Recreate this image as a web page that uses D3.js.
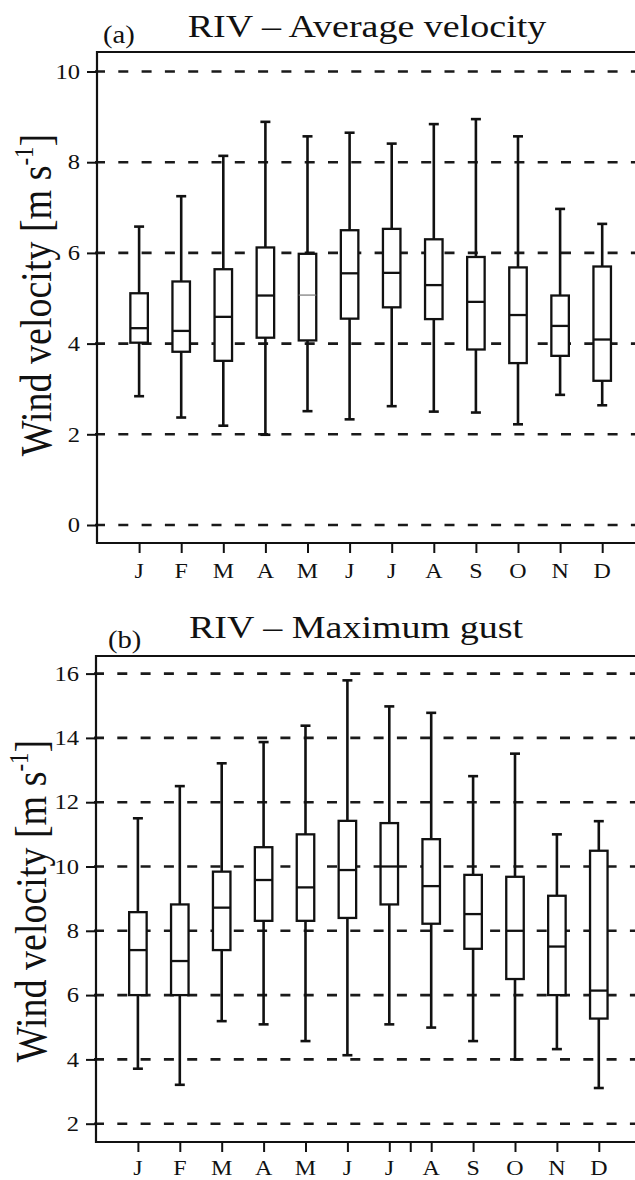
<!DOCTYPE html>
<html>
<head>
<meta charset="utf-8">
<script src="https://cdn.jsdelivr.net/npm/d3@7"></script>
<style>
  body { margin: 0; background: #fff; }
  svg text { font-family: "Liberation Serif", "Times New Roman", serif; fill: #111; }
</style>
</head>
<body>
<svg id="chart" width="635" height="1180"></svg>
<script>
// months on the x axis
var months = ["J", "F", "M", "A", "M", "J", "J", "A", "S", "O", "N", "D"];

// (a) average velocity, m/s
var avgMin = [2.84, 2.37, 2.19, 1.99, 2.51, 2.33, 2.62, 2.50, 2.48, 2.22, 2.87, 2.64];
var avgQ1  = [4.02, 3.82, 3.62, 4.13, 4.07, 4.55, 4.80, 4.54, 3.87, 3.57, 3.73, 3.18];
var avgMed = [4.34, 4.28, 4.59, 5.06, 5.07, 5.55, 5.56, 5.29, 4.92, 4.63, 4.39, 4.09];
var avgQ3  = [5.11, 5.37, 5.64, 6.12, 5.98, 6.50, 6.53, 6.30, 5.91, 5.68, 5.06, 5.70];
var avgMax = [6.58, 7.25, 8.14, 8.89, 8.57, 8.65, 8.41, 8.84, 8.95, 8.57, 6.97, 6.64];
var avgTicks = [0, 2, 4, 6, 8, 10];

// (b) maximum gust, m/s
var gustMin = [3.71, 3.21, 5.19, 5.09, 4.57, 4.13, 5.09, 4.99, 4.57, 4.00, 4.32, 3.11];
var gustQ1  = [6.00, 6.00, 7.40, 8.31, 8.31, 8.40, 8.82, 8.22, 7.44, 6.50, 6.00, 5.27];
var gustMed = [7.40, 7.06, 8.72, 9.58, 9.35, 9.89, 10.00, 9.39, 8.52, 8.00, 7.51, 6.14];
var gustQ3  = [8.58, 8.82, 9.84, 10.60, 11.00, 11.42, 11.35, 10.85, 9.74, 9.68, 9.09, 10.49];
var gustMax = [11.50, 12.50, 13.21, 13.87, 14.38, 15.79, 14.98, 14.78, 12.81, 13.51, 11.00, 11.41];
var gustTicks = [2, 4, 6, 8, 10, 12, 14, 16];

var svg = d3.select("#chart");
var SX = 1.17; // the picture is a bit stretched sideways

function buildRows(mn, q1, md, q3, mx) {
  return months.map(function(m, i) {
    return {i: i, month: m, min: mn[i], q1: q1[i], med: md[i], q3: q3[i], max: mx[i]};
  });
}

function panel(o) {
  var g = svg.append("g");

  var x = d3.scaleLinear().domain([0, 13]).range([o.left, o.left + 13 * o.step]);
  var y = d3.scaleLinear().domain(o.domain).range(o.range);

  // dashed grid
  g.selectAll("line.grid")
    .data(o.ticks)
    .enter()
    .append("line")
    .attr("class", "grid")
    .attr("x1", o.left - 2)
    .attr("x2", 640)
    .attr("y1", function(d) { return y(d); })
    .attr("y2", function(d) { return y(d); })
    .attr("stroke", "#1a1a1a")
    .attr("stroke-width", 2.6)
    .attr("stroke-dasharray", "10,13.3");

  // frame
  g.append("path")
    .attr("d", "M640," + o.top + "H" + o.left + "V" + o.bottom + "H640")
    .attr("fill", "none")
    .attr("stroke", "#111")
    .attr("stroke-width", 2.2);

  // y axis
  var yAxis = d3.axisLeft(y).tickValues(o.ticks).tickSize(10).tickPadding(17);
  var ya = g.append("g")
    .attr("transform", "translate(" + o.left + ",0)")
    .call(yAxis);
  ya.select(".domain").remove();
  ya.selectAll("line").attr("stroke", "#111").attr("stroke-width", 2);
  ya.selectAll("text")
    .attr("font-family", "Liberation Serif, serif")
    .attr("font-size", 21)
    .attr("fill", "#222")
    .attr("x", -17 / SX)
    .attr("transform", "scale(" + SX + ",1)");

  // x axis
  var xa = g.append("g")
    .attr("transform", "translate(0," + o.bottom + ")")
    .call(d3.axisBottom(x).tickValues(d3.range(1, 13).concat(o.extraTick)).tickSize(10).tickFormat(""));
  xa.select(".domain").remove();
  xa.selectAll("line").attr("stroke", "#111").attr("stroke-width", 2);

  g.selectAll("text.month")
    .data(o.rows)
    .enter()
    .append("text")
    .attr("class", "month")
    .attr("text-anchor", "middle")
    .attr("font-size", 20.5)
    .attr("fill", "#222")
    .attr("transform", function(d) { return "translate(" + x(d.i + 1) + "," + o.monthY + ") scale(" + SX + ",1)"; })
    .text(function(d) { return d.month; });

  // boxes
  var bw = 17.5, cw = 10;
  var box = g.selectAll("g.box")
    .data(o.rows)
    .enter()
    .append("g")
    .attr("class", "box")
    .attr("transform", function(d) { return "translate(" + x(d.i + 1) + ",0)"; });

  box.append("line")
    .attr("y1", function(d) { return y(d.max); })
    .attr("y2", function(d) { return y(d.min); })
    .attr("stroke", "#111").attr("stroke-width", 2.6);
  box.append("line")
    .attr("x1", -cw / 2).attr("x2", cw / 2)
    .attr("y1", function(d) { return y(d.max); })
    .attr("y2", function(d) { return y(d.max); })
    .attr("stroke", "#111").attr("stroke-width", 2.6);
  box.append("line")
    .attr("x1", -cw / 2).attr("x2", cw / 2)
    .attr("y1", function(d) { return y(d.min); })
    .attr("y2", function(d) { return y(d.min); })
    .attr("stroke", "#111").attr("stroke-width", 2.6);
  box.append("rect")
    .attr("x", -bw / 2)
    .attr("width", bw)
    .attr("y", function(d) { return y(d.q3); })
    .attr("height", function(d) { return y(d.q1) - y(d.q3); })
    .attr("fill", "#fff")
    .attr("stroke", "#111")
    .attr("stroke-width", 2.3);
  box.append("line")
    .attr("x1", -bw / 2).attr("x2", bw / 2)
    .attr("y1", function(d) { return y(d.med); })
    .attr("y2", function(d) { return y(d.med); })
    .attr("stroke", function(d) { return d.i == o.thinMedian ? "#777" : "#111"; })
    .attr("stroke-width", function(d) { return d.i == o.thinMedian ? 1.2 : 2.3; });

  // titles
  g.append("text")
    .attr("text-anchor", "middle")
    .attr("font-size", 32.5)
    .attr("transform", "translate(" + o.titleX + "," + o.titleY + ") scale(" + SX + ",1)")
    .text(o.title);
  g.append("text")
    .attr("font-size", 24.5)
    .attr("transform", "translate(" + o.tagX + "," + o.tagY + ") scale(" + SX + ",1)")
    .text(o.tag);

  // y label
  var lab = g.append("text")
    .attr("text-anchor", "middle")
    .attr("font-size", 38)
    .attr("transform", "translate(" + o.labX + "," + o.labY + ") scale(" + SX + ",1) rotate(-90)");
  lab.append("tspan").text("Wind velocity [m s");
  lab.append("tspan").attr("font-size", 23).attr("dy", -15).text("-1");
  lab.append("tspan").attr("dy", 15).text("]");
}

panel({
  rows: buildRows(avgMin, avgQ1, avgMed, avgQ3, avgMax),
  ticks: avgTicks,
  domain: [0, 10], range: [525, 71.5],
  left: 97, step: 42.1, top: 52, bottom: 543, monthY: 578,
  extraTick: [], thinMedian: 4,
  title: "RIV \u2013 Average velocity", titleX: 367, titleY: 37,
  tag: "(a)", tagX: 103, tagY: 43,
  labX: 51, labY: 295
});

panel({
  rows: buildRows(gustMin, gustQ1, gustMed, gustQ3, gustMax),
  ticks: gustTicks,
  domain: [2, 16], range: [1123.7, 673.6],
  left: 96, step: 41.9, top: 656, bottom: 1142, monthY: 1175,
  extraTick: [7.5], thinMedian: -1,
  title: "RIV \u2013 Maximum gust", titleX: 356, titleY: 638,
  tag: "(b)", tagX: 108, tagY: 648,
  labX: 46, labY: 901
});
</script>
</body>
</html>
